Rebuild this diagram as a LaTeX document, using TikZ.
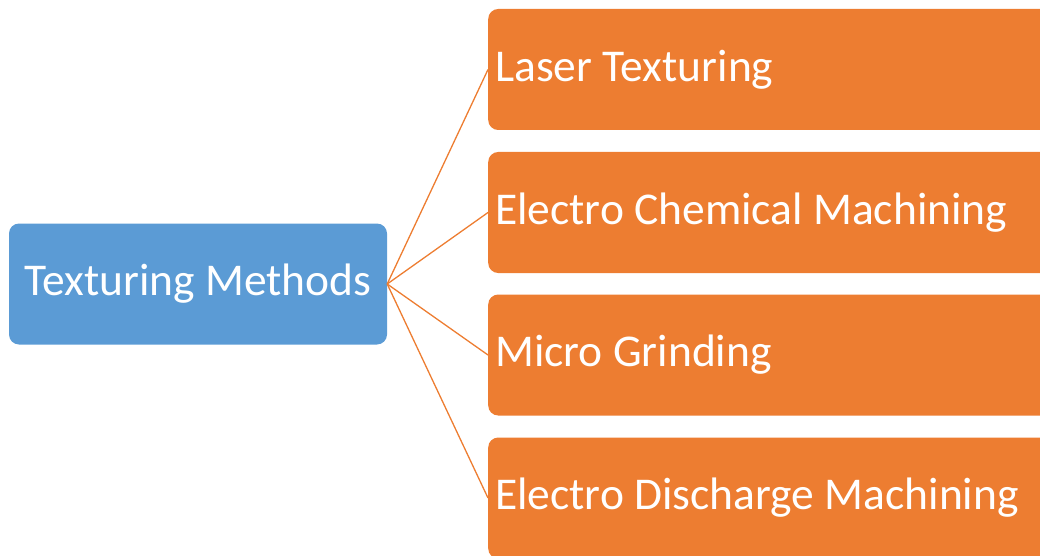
\documentclass[tikz,border=0pt]{standalone}
\usepackage{fontspec}
\setmainfont{Carlito}
\definecolor{hubblue}{HTML}{5B9BD5}
\definecolor{leaforange}{HTML}{ED7D31}
\newcommand{\leaftext}[1]{\hbox to 586pt{#1\hfil}}
\begin{document}
\begin{tikzpicture}[x=1pt,y=-1pt,
  hubbox/.style={fill=hubblue, rounded corners=10pt, text=white,
    minimum width=378pt, minimum height=121pt, inner sep=0pt,
    font=\fontsize{45.5}{54}\selectfont},
  leafbox/.style={fill=leaforange, rounded corners=10pt, text=white,
    anchor=west, inner xsep=7pt, inner ysep=0pt,
    minimum height=121pt, font=\fontsize{45.5}{54}\selectfont},
  link/.style={draw=leaforange, line width=1.3pt}]
  \useasboundingbox (0,0) rectangle (1040,556);
  \clip (0,0) rectangle (1040,556);
  % root node
  \node[hubbox] (hub) at (198,284) {Texturing Methods};
  % method nodes, running off the right edge
  \node[leafbox] (laser) at (488,69.5) {\leaftext{Laser Texturing}};
  \node[leafbox] (ecm) at (488,212.5) {\leaftext{Electro Chemical Machining}};
  \node[leafbox] (grind) at (488,355) {\leaftext{Micro Grinding}};
  \node[leafbox] (edm) at (488,498) {\leaftext{Electro Discharge Machining}};
  % connectors
  \foreach \n in {laser,ecm,grind,edm}
    \draw[link] (hub.east) -- (\n.west);
\end{tikzpicture}
\end{document}
